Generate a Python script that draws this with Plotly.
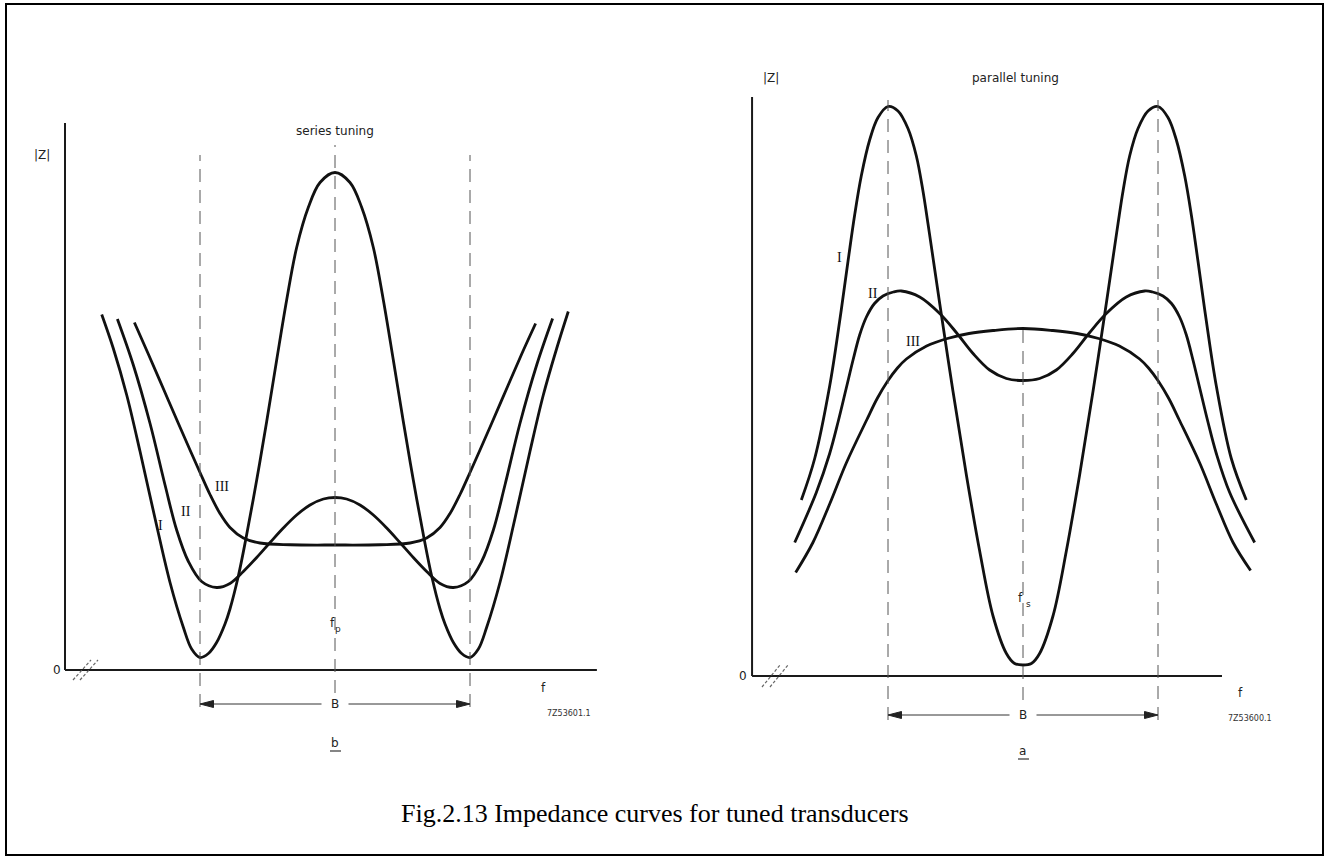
import plotly.graph_objects as go

# ---------------- data (|Z| in arbitrary units, f relative to band centre) ----------------
# series tuning (panel b)
ser_I_f = [-1.728, -1.642, -1.543, -1.444, -1.333, -1.222, -1.123, -1.062, -1.000, -0.938, -0.877,
           -0.815, -0.778, -0.716, -0.659, -0.580, -0.506, -0.432, -0.358, -0.284, -0.198, -0.111, 0.0,
           0.111, 0.198, 0.284, 0.358, 0.432, 0.506, 0.580, 0.659, 0.716, 0.778, 0.815, 0.877, 0.938,
           1.000, 1.062, 1.123, 1.222, 1.333, 1.444, 1.543, 1.642, 1.728]
ser_I_z = [7.11, 6.43, 5.50, 4.37, 3.03, 1.75, 0.85, 0.42, 0.25, 0.33, 0.55,
           0.92, 1.22, 1.88, 2.64, 3.80, 4.97, 6.20, 7.40, 8.45, 9.25, 9.75, 9.95,
           9.75, 9.25, 8.45, 7.40, 6.20, 4.97, 3.80, 2.64, 1.88, 1.22, 0.92, 0.55, 0.33,
           0.25, 0.42, 0.85, 1.75, 3.03, 4.37, 5.50, 6.43, 7.17]

ser_II_f = [-1.612, -1.494, -1.370, -1.259, -1.173, -1.086, -0.988, -0.877, -0.778, -0.679, -0.580,
            -0.481, -0.383, -0.284, -0.185, -0.086, 0.0, 0.086, 0.185, 0.284, 0.383, 0.481,
            0.580, 0.679, 0.778, 0.877, 0.988, 1.086, 1.173, 1.259, 1.370, 1.494, 1.612]
ser_II_z = [7.02, 6.10, 4.93, 3.70, 2.80, 2.17, 1.77, 1.65, 1.73, 1.97, 2.25,
            2.55, 2.84, 3.10, 3.30, 3.42, 3.45, 3.42, 3.30, 3.10, 2.84, 2.55,
            2.25, 1.97, 1.73, 1.65, 1.77, 2.17, 2.80, 3.70, 4.93, 6.10, 7.03]

ser_III_f = [-1.486, -1.383, -1.272, -1.160, -1.074, -1.000, -0.926, -0.852, -0.778, -0.679, -0.556,
             -0.333, 0.0, 0.333, 0.556, 0.679, 0.778, 0.852, 0.926, 1.000, 1.074, 1.160,
             1.272, 1.383, 1.486]
ser_III_z = [6.95, 6.32, 5.63, 4.93, 4.40, 3.95, 3.51, 3.13, 2.85, 2.64, 2.54,
             2.505, 2.50, 2.505, 2.54, 2.64, 2.85, 3.13, 3.51, 3.95, 4.40, 4.93,
             5.63, 6.32, 6.93]

# parallel tuning (panel a)
par_I_f = [-1.642, -1.543, -1.432, -1.358, -1.296, -1.247, -1.198, -1.136, -1.074, -1.000, -0.926,
           -0.852, -0.790, -0.741, -0.704, -0.667, -0.617, -0.519, -0.420, -0.321, -0.222, -0.123,
           -0.062, 0.0, 0.062, 0.123, 0.222, 0.321, 0.420, 0.519, 0.617, 0.667, 0.704, 0.741,
           0.790, 0.852, 0.926, 1.000, 1.074, 1.136, 1.198, 1.247, 1.296, 1.358, 1.432, 1.543, 1.654]
par_I_z = [3.52, 4.35, 5.80, 7.10, 8.30, 9.22, 10.00, 10.72, 11.17, 11.39, 11.30,
           10.95, 10.40, 9.70, 9.05, 8.37, 7.45, 5.70, 4.03, 2.50, 1.20, 0.45,
           0.25, 0.22, 0.25, 0.45, 1.20, 2.50, 4.03, 5.70, 7.45, 8.37, 9.05, 9.70,
           10.40, 10.95, 11.30, 11.39, 11.17, 10.72, 10.00, 9.22, 8.30, 7.10, 5.80, 4.35, 3.52]

par_II_f = [-1.691, -1.531, -1.432, -1.370, -1.309, -1.259, -1.210, -1.160, -1.100, -1.037, -0.960,
            -0.901, -0.765, -0.617, -0.494, -0.370, -0.247, -0.123, 0.0, 0.123, 0.247, 0.370,
            0.494, 0.617, 0.765, 0.901, 0.960, 1.037, 1.100, 1.160, 1.210, 1.259, 1.309, 1.370,
            1.432, 1.531, 1.716]
par_II_z = [2.67, 3.67, 4.45, 5.08, 5.76, 6.32, 6.82, 7.18, 7.45, 7.60, 7.68,
            7.70, 7.58, 7.25, 6.87, 6.45, 6.12, 5.95, 5.91, 5.95, 6.12, 6.45,
            6.87, 7.25, 7.58, 7.70, 7.68, 7.60, 7.45, 7.18, 6.82, 6.32, 5.76, 5.08,
            4.45, 3.67, 2.67]

par_III_f = [-1.684, -1.556, -1.432, -1.309, -1.158, -1.080, -1.002, -0.930, -0.864, -0.714, -0.560,
             -0.400, -0.222, 0.0, 0.222, 0.400, 0.560, 0.714, 0.864, 0.930, 1.002, 1.080,
             1.158, 1.309, 1.432, 1.556, 1.686]
par_III_z = [2.07, 2.67, 3.44, 4.26, 5.12, 5.55, 5.90, 6.16, 6.34, 6.60, 6.75,
             6.85, 6.91, 6.95, 6.91, 6.85, 6.75, 6.60, 6.34, 6.16, 5.90, 5.55,
             5.12, 4.26, 3.44, 2.67, 2.11]

curve_labels = ["I", "II", "III"]
caption = "Fig.2.13 Impedance curves for tuned transducers"

# ---------------- layout helpers (pixel geometry of the page) ----------------
W, H = 1328, 859
PXU_X, PXU_Y = 135.0, 50.0          # pixels per unit on both panels


def xdom(px0, px1):
    return [px0 / W, px1 / W]


def ydom(py_bottom, py_top):
    return [1 - py_bottom / H, 1 - py_top / H]


L_CX, L_Y0 = 335, 670
R_CX, R_Y0 = 1023, 676


def lx(px):
    return (px - L_CX) / PXU_X


def ly(py):
    return (L_Y0 - py) / PXU_Y


def rx(px):
    return (px - R_CX) / PXU_X


def ry(py):
    return (R_Y0 - py) / PXU_Y


fig = go.Figure()
curve_style = dict(color="#111111", width=2.8, shape="spline", smoothing=1.0)

for fx, zz in [(ser_I_f, ser_I_z), (ser_II_f, ser_II_z), (ser_III_f, ser_III_z)]:
    fig.add_trace(go.Scatter(x=fx, y=zz, mode="lines", line=curve_style,
                             xaxis="x", yaxis="y", showlegend=False, hoverinfo="skip"))
for fx, zz in [(par_I_f, par_I_z), (par_II_f, par_II_z), (par_III_f, par_III_z)]:
    fig.add_trace(go.Scatter(x=fx, y=zz, mode="lines", line=curve_style,
                             xaxis="x2", yaxis="y2", showlegend=False, hoverinfo="skip"))

shapes = []
axis_line = dict(color="#1a1a1a", width=2)
dash_line = dict(color="#555555", width=1, dash="13px,8px")
slash_line = dict(color="#666666", width=1.2, dash="3px,2px")
arrow_line = dict(color="#333333", width=1)
uline = dict(color="#333333", width=1.2)


def seg(xr, yr, x0, y0, x1, y1, line):
    shapes.append(dict(type="line", xref=xr, yref=yr, x0=x0, y0=y0, x1=x1, y1=y1,
                       line=line, layer="above"))


def b_arrow(xr, yr, y):
    seg(xr, yr, -0.98, y, -0.1, y, arrow_line)
    seg(xr, yr, 0.1, y, 0.98, y, arrow_line)
    hl, hw = 0.1, 0.07
    for tip, s in ((-1.0, 1), (1.0, -1)):
        shapes.append(dict(type="path", xref=xr, yref=yr,
                           path=f"M {tip},{y} L {tip + s * hl},{y + hw} L {tip + s * hl},{y - hw} Z",
                           fillcolor="#222222", line=dict(color="#222222", width=1), layer="above"))


# left panel axes and guides
seg("x", "y", -2.0, 0, -2.0, 10.94, axis_line)
seg("x", "y", -2.0, 0, 1.94, 0, axis_line)
seg("x", "y", lx(73), ly(680), lx(91), ly(660), slash_line)
seg("x", "y", lx(80), ly(680), lx(98), ly(660), slash_line)
seg("x", "y", -1, -0.74, -1, 10.3, dash_line)
seg("x", "y", 1, -0.74, 1, 10.3, dash_line)
seg("x", "y", 0, -0.46, 0, 10.5, dash_line)
b_arrow("x", "y", -0.68)
seg("x", "y", lx(330), ly(751), lx(341), ly(751), uline)

# right panel axes and guides
seg("x2", "y2", -2.007, 0, -2.007, 11.58, axis_line)
seg("x2", "y2", -2.007, 0, 1.474, 0, axis_line)
seg("x2", "y2", rx(762), ry(687), rx(780), ry(665), slash_line)
seg("x2", "y2", rx(770), ry(687), rx(788), ry(665), slash_line)
seg("x2", "y2", -1, -0.88, -1, 11.52, dash_line)
seg("x2", "y2", 1, -0.88, 1, 11.52, dash_line)
seg("x2", "y2", 0, -0.48, 0, 7.02, dash_line)
b_arrow("x2", "y2", -0.78)
seg("x2", "y2", rx(1018), ry(759), rx(1029), ry(759), uline)

# page border
shapes.append(dict(type="rect", xref="paper", yref="paper",
                   x0=6 / W, x1=1323 / W, y0=1 - 855 / H, y1=1 - 4 / H,
                   line=dict(color="#000000", width=2), layer="above"))

ann = []
lab_font = dict(family="DejaVu Sans", size=12, color="#222222")
sub_font = dict(family="DejaVu Sans", size=9, color="#222222")
rom_font = dict(family="Liberation Serif", size=14, color="#111111")
small_font = dict(family="DejaVu Sans", size=8, color="#333333")


def text(xr, yr, x, y, t, font, xanchor="center"):
    ann.append(dict(xref=xr, yref=yr, x=x, y=y, text=t, showarrow=False,
                    font=font, xanchor=xanchor, yanchor="middle"))


# left panel texts (series tuning)
text("x", "y", lx(42), ly(155), "|Z|", lab_font)
text("x", "y", lx(57), 0, "0", lab_font)
text("x", "y", 0, ly(131), "series tuning", lab_font)
text("x", "y", lx(160), ly(525), curve_labels[0], rom_font)
text("x", "y", lx(186), ly(512), curve_labels[1], rom_font)
text("x", "y", lx(222), ly(487), curve_labels[2], rom_font)
text("x", "y", lx(332), ly(623), "f", lab_font)
text("x", "y", lx(338), ly(629), "p", sub_font)
text("x", "y", 0, ly(704), "B", lab_font)
text("x", "y", 0, ly(743), "b", lab_font)
text("x", "y", lx(543), ly(688), "f", lab_font)
text("x", "y", lx(593), ly(713), "7Z53601.1", small_font, xanchor="right")

# right panel texts (parallel tuning)
text("x2", "y2", rx(771), ry(78), "|Z|", lab_font)
text("x2", "y2", rx(1016), ry(78), "parallel tuning", lab_font)
text("x2", "y2", rx(743), 0, "0", lab_font)
text("x2", "y2", rx(840), ry(257), curve_labels[0], rom_font)
text("x2", "y2", rx(873), ry(293), curve_labels[1], rom_font)
text("x2", "y2", rx(913), ry(341), curve_labels[2], rom_font)
text("x2", "y2", rx(1021), ry(598), "f", lab_font)
text("x2", "y2", rx(1028), ry(604), "s", sub_font)
text("x2", "y2", 0, ry(715), "B", lab_font)
text("x2", "y2", 0, ry(751), "a", lab_font)
text("x2", "y2", rx(1240), ry(693), "f", lab_font)
text("x2", "y2", rx(1274), ry(718), "7Z53600.1", small_font, xanchor="right")

# caption
ann.append(dict(xref="paper", yref="paper", x=655 / W, y=1 - 813 / H, text=caption,
                showarrow=False, xanchor="center", yanchor="middle",
                font=dict(family="Liberation Serif", size=26, color="#000000")))

hidden = dict(visible=False, showgrid=False, zeroline=False, fixedrange=True)
fig.update_layout(
    width=W, height=H,
    margin=dict(l=0, r=0, t=0, b=0),
    paper_bgcolor="white", plot_bgcolor="rgba(0,0,0,0)",
    showlegend=False,
    xaxis=dict(domain=xdom(40, 620), range=[lx(40), lx(620)], anchor="y", **hidden),
    yaxis=dict(domain=ydom(780, 100), range=[ly(780), ly(100)], anchor="x", **hidden),
    xaxis2=dict(domain=xdom(730, 1300), range=[rx(730), rx(1300)], anchor="y2", **hidden),
    yaxis2=dict(domain=ydom(790, 60), range=[ry(790), ry(60)], anchor="x2", **hidden),
    shapes=shapes,
    annotations=ann,
)

fig.write_html("out.html")
